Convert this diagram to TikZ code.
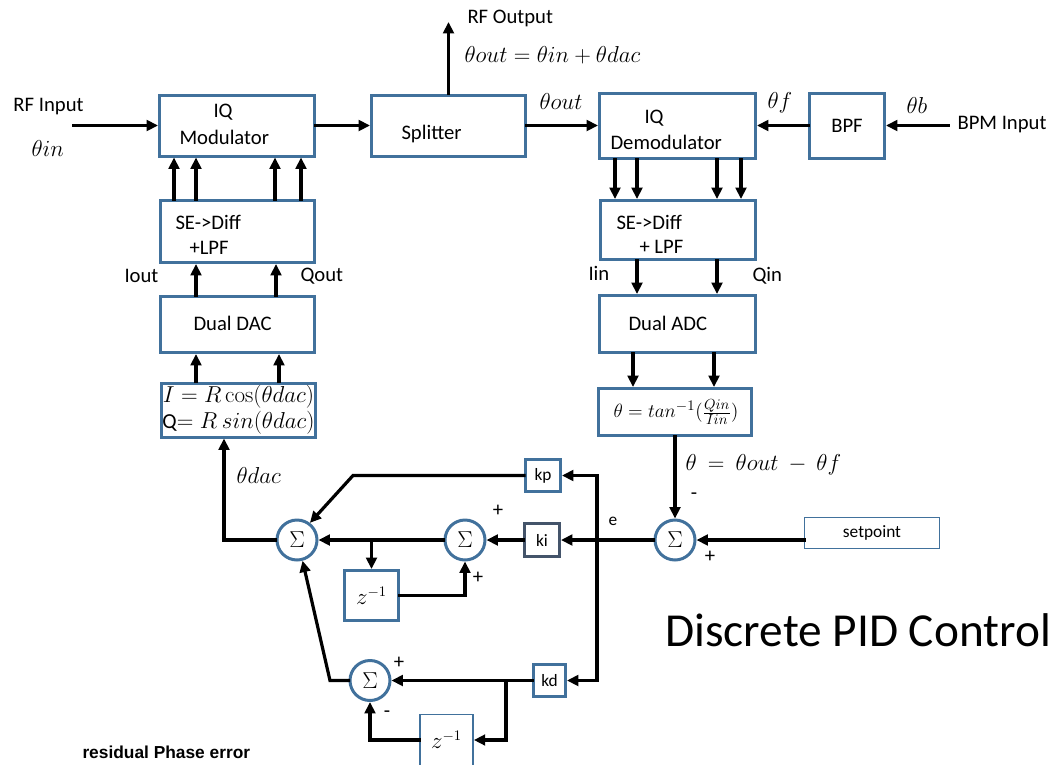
\documentclass[tikz,border=0pt]{standalone}
\usepackage[no-math]{fontspec}
\setmainfont{Carlito}
\newfontfamily\arialfont{Liberation Sans}
\usetikzlibrary{arrows.meta}

\definecolor{boxblue}{RGB}{65,113,156}
\definecolor{kiblue}{RGB}{68,84,106}

\tikzset{every picture/.style={line width=0.75pt}}
\tikzset{
  blk/.style={draw=boxblue, line width=2.25pt, fill=white, inner sep=0pt, font=\fontsize{15.5}{18}\selectfont},
  thinblk/.style={draw=boxblue, line width=1.1pt, fill=white, inner sep=0pt},
  sumnode/.style={circle, draw=boxblue, line width=2.25pt, fill=white, minimum size=30pt, inner sep=0pt, font=\fontsize{19}{21}\selectfont},
  sig/.style={line width=2.4pt, line cap=rect, -{Triangle[length=8.5pt,width=8pt]}},
  wire/.style={line width=2.4pt, line cap=rect},
  txt/.style={inner sep=0.75pt, font=\fontsize{15.5}{18}\selectfont},
  mth/.style={inner sep=0.75pt, font=\fontsize{16}{18}\selectfont},
  smalltxt/.style={inner sep=0.75pt, font=\fontsize{13}{15}\selectfont},
}

\begin{document}
\begin{tikzpicture}[x=0.75pt,y=0.75pt,yscale=-1,xscale=1]
\useasboundingbox (0,0) rectangle (1056,764);

%Shape: Rectangle -- RF chain
\node[blk, minimum width=116.25pt, minimum height=45.75pt] (mod) at (237,125.5) {};
\node[blk, minimum width=115.5pt, minimum height=45.75pt] (split) at (448.5,125.5) {};
\node[blk, minimum width=117pt, minimum height=48.75pt] (demod) at (677.5,125.5) {};
\node[blk, minimum width=56.25pt, minimum height=48.75pt] (bpf) at (847,125.5) {BPF};
%Shape: Rectangle -- DAC side
\node[blk, minimum width=115.5pt, minimum height=46.5pt] (sel) at (237.5,231.5) {};
\node[blk, minimum width=115.5pt, minimum height=42pt] (dac) at (237.5,324.5) {};
\node[blk, minimum width=115.5pt, minimum height=40.5pt, align=center, font=\fontsize{16}{19.5}\selectfont] (iq) at (238.5,410)
  {$I = R\cos(\theta dac)$\\Q$= R\ sin(\theta dac)$};
%Shape: Rectangle -- ADC side
\node[blk, minimum width=116.25pt, minimum height=44.25pt] (ser) at (678,230) {};
\node[blk, minimum width=117pt, minimum height=42.75pt] (adc) at (677.5,324) {};
\node[blk, minimum width=114.75pt, minimum height=35.25pt] (atan) at (675,412) {};

%Shape: Rectangle -- gains and delays
\node[blk, minimum width=26.25pt, minimum height=24pt, font=\fontsize{13}{15}\selectfont] (kp) at (543,475.5) {kp};
\node[blk, draw=kiblue, minimum width=26.25pt, minimum height=24.75pt, font=\fontsize{13}{15}\selectfont] (ki) at (542,540) {ki};
\node[blk, minimum width=24pt, minimum height=24pt, font=\fontsize{13}{15}\selectfont] (kd) at (549.5,680.5) {kd};
\node[blk, minimum width=40.5pt, minimum height=37.5pt, font=\fontsize{16}{18}\selectfont] (zi) at (371.5,595.5) {$z^{-1}$};
\node[thinblk, minimum width=40pt, minimum height=38pt, font=\fontsize{16}{18}\selectfont] (zd) at (446.5,740) {$z^{-1}$};
\node[thinblk, minimum width=101pt, minimum height=23pt, font=\fontsize{13}{15}\selectfont] (setp) at (872,533) {setpoint};

%Shape: Circle -- summing junctions
\node[sumnode] (sumo) at (297,540) {$\Sigma$};
\node[sumnode] (sumi) at (465,540) {$\Sigma$};
\node[sumnode] (sume) at (675,540) {$\Sigma$};
\node[sumnode] (sumd) at (370,680.5) {$\Sigma$};

%Straight Lines -- RF path
\coordinate (rfsrc) at (74,125.5);
\coordinate (rfo) at (449,22);
\coordinate (bpmsrc) at (948,125.5);
\draw[sig] (rfsrc) -- (mod.west);
\draw[sig] (mod.east) -- (split.west);
\draw[sig] (split.north) -- (split.north |- rfo);
\draw[sig] (split.east) -- (demod.west);
\draw[sig] (bpf.west) -- (demod.east);
\draw[sig] (bpmsrc) -- (bpf.east);

%Straight Lines -- I/Q buses
\foreach \x in {174,196,275,301} \draw[sig] (sel.north -| \x,0) -- (mod.south -| \x,0);
\foreach \x in {196,276} \draw[sig] (dac.north -| \x,0) -- (sel.south -| \x,0);
\foreach \x in {196,279} \draw[sig] (iq.north -| \x,0) -- (dac.south -| \x,0);
\foreach \x in {615,637,717,741} \draw[sig] (demod.south -| \x,0) -- (ser.north -| \x,0);
\foreach \x in {637,717} \draw[sig] (ser.south -| \x,0) -- (adc.north -| \x,0);
\foreach \x in {633,714} \draw[sig] (adc.south -| \x,0) -- (atan.north -| \x,0);

%Straight Lines -- PID loop
\coordinate (ebus) at (597,540);
\coordinate (kpbend) at (353,475.5);
\coordinate (dacbend) at (224,540);
\coordinate (kdtap) at (506,680.5);
\coordinate (dbend) at (330,680.5);
\draw[sig] (atan.south) -- (sume.north);
\draw[sig] (setp.west |- sume.east) -- (sume.east);
\draw[sig] (sume.west) -- (ki.east);
\draw[sig] (kp.east -| ebus) -- (kp.east);
\draw[wire] (kp.east -| ebus) -- (kd.east -| ebus);
\draw[sig] (kd.east -| ebus) -- (kd.east);
\draw[sig] (ki.west) -- (sumi.east);
\draw[sig] (sumi.west) -- (sumo.east);
\draw[sig] (zi.north |- sumo.east) -- (zi.north);
\draw[sig] (zi.east) -- (sumi.south |- zi.east) -- (sumi.south);
\draw[sig] (kp.west) -- (kpbend) -- (sumo.53);
\draw[sig] (sumo.west) -- (dacbend) -- (dacbend |- iq.south);
\draw[sig] (kd.west) -- (sumd.east);
\draw[sig] (kdtap) -- (kdtap |- zd.east) -- (zd.east);
\draw[sig] (zd.west) -- (sumd.south |- zd.west) -- (sumd.south);
\draw[sig] (sumd.west) -- (dbend) -- (sumo.-75);

% Text Node
\node[txt, anchor=west] (rfin) at (12,107) {RF Input};
\node[mth, anchor=west] (thin) at (30,148) {$\theta in$};
\node[txt, anchor=west] (modiq) at (212,112) {IQ};
\node[txt, anchor=west] (modname) at (178,137) {Modulator};
\node[txt, anchor=west] (splitname) at (400,134) {Splitter};
\node[txt, anchor=west] (rfout) at (466,18) {RF Output};
\node[mth, anchor=west] (outeq) at (463,55) {$\theta out = \theta in + \theta dac$};
\node[mth, anchor=west] (thout) at (538,101) {$\theta out$};
\node[txt, anchor=west] (demiq) at (643,118) {IQ};
\node[txt, anchor=west] (demname) at (609,142) {Demodulator};
\node[mth, anchor=west, font=\fontsize{19}{21}\selectfont] (thf) at (766,103) {$\theta f$};
\node[mth, anchor=west, font=\fontsize{19}{21}\selectfont] (thb) at (905,105) {$\theta b$};
\node[txt, anchor=west] (bpmin) at (956,125) {BPM Input};
\node[txt, anchor=west] (selone) at (174,222) {SE->Diff};
\node[txt, anchor=west] (seltwo) at (188,248) {+LPF};
\node[txt, anchor=west] (iout) at (123,276) {Iout};
\node[txt, anchor=west] (qout) at (299,276) {Qout};
\node[txt, anchor=west] (dacname) at (192,323) {Dual DAC};
\node[txt, anchor=west] (serone) at (615,222) {SE->Diff};
\node[txt, anchor=west] (sertwo) at (638,247) {+ LPF};
\node[txt, anchor=west] (iin) at (587,273) {Iin};
\node[txt, anchor=west] (qin) at (751,276) {Qin};
\node[txt, anchor=west] (adcname) at (627,323) {Dual ADC};
\node[mth, anchor=west, font=\fontsize{15}{18}\selectfont] (atanname) at (612,412) {$\theta = tan^{-1}(\frac{Qin}{Iin})$};
\node[mth, anchor=west] (theq) at (684,465) {$\theta\ =\ \theta out\ -\ \theta f$};
\node[txt] (sgnem) at (694,496) {-};
\node[txt] (sgnep) at (710,557) {+};
\node[smalltxt] (elbl) at (613,521) {e};
\node[mth, anchor=west] (thdac) at (235,475) {$\theta dac$};
\node[txt] (sgnip) at (498,511) {+};
\node[txt] (sgnzp) at (478,578) {+};
\node[txt] (sgndp) at (399,663) {+};
\node[txt] (sgndm) at (387,714) {-};
\node[anchor=west, inner sep=0pt, font=\fontsize{35.5}{40}\selectfont] (title) at (665,630) {Discrete PID Control};
\node[anchor=west, inner sep=0pt, font=\arialfont\bfseries\fontsize{13}{15}\selectfont] (resid) at (82,752) {residual Phase error};

\end{tikzpicture}
\end{document}
